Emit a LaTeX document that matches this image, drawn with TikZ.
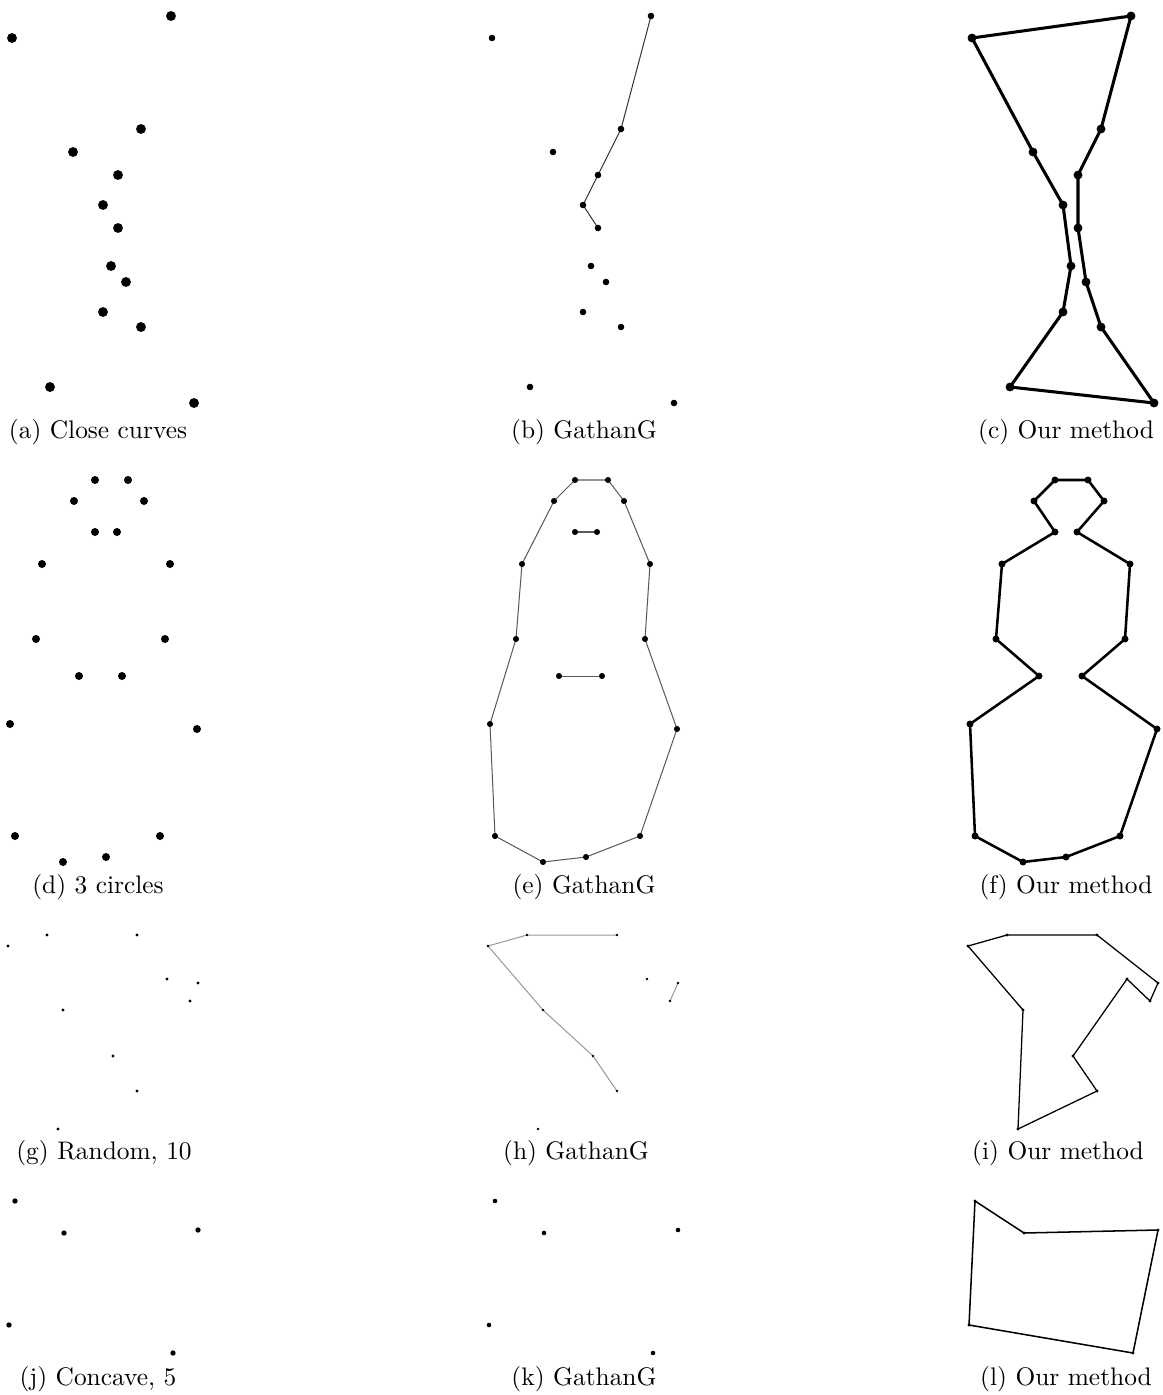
\documentclass[tikz,border=0pt]{standalone}
\usepackage{tikz}
\usetikzlibrary{backgrounds}

% point sets (pixel units, y downwards)
\def\ptsclose{171/16,12/38,141/129,73/152,118/175,103/205,118/228,111/266,126/282,103/312,141/327,50/387,194/403}
\def\ptscircles{95/480,128/480,74/501,144/501,95/532,117/532,42/564,170/564,36/639,165/639,79/676,122/676,10/724,197/729,15/836,160/836,63/862,106/857}
\def\ptsrandom{8/946,47/935,137/935,167/979,198/983,190/1001,63/1010,113/1056,137/1091,58/1129}
\def\ptsconcave{15/1201,64/1233,198/1230,9/1325,173/1353}

\begin{document}
\begin{tikzpicture}[
    x=0.3937pt, y=-0.3937pt,
    dot/.style={circle, fill=black, inner sep=0pt, minimum size=#1},
    gathan/.style={draw=#1, line width=0.4pt},
    ours/.style={draw=black, line width=#1, line join=round},
    caption/.style={font=\normalsize},
]
    \useasboundingbox (0,0) rectangle (1163,1395);

    % Row 1: close curves
    \foreach \x/\y [count=\i] in \ptsclose {
        \node[dot=3.9pt] (a\i) at (\x,\y) {};
        \node[dot=2.6pt] (b\i) at (\x+480,\y) {};
        \node[dot=3.5pt] (c\i) at (\x+960,\y) {};
    }
    \begin{scope}[on background layer]
        \draw[gathan=black!80] (b1.center) -- (b3.center) -- (b5.center) -- (b6.center) -- (b7.center);
        \draw[ours=1.2pt] (c1.center) -- (c2.center) -- (c4.center) -- (c6.center) -- (c8.center) -- (c10.center) -- (c12.center)
            -- (c13.center) -- (c11.center) -- (c9.center) -- (c7.center) -- (c5.center) -- (c3.center) -- cycle;
    \end{scope}
    \node[caption] (capa) at (98,432) {(a) Close curves};
    \node[caption] (capb) at (584,432) {(b) GathanG};
    \node[caption] (capc) at (1066,432) {(c) Our method};

    % Row 2: 3 circles
    \foreach \x/\y [count=\i] in \ptscircles {
        \node[dot=3.15pt] (d\i) at (\x,\y) {};
        \node[dot=2.4pt] (e\i) at (\x+480,\y) {};
        \node[dot=2.75pt] (f\i) at (\x+960,\y) {};
    }
    \begin{scope}[on background layer]
        \draw[gathan=black!65] (e1.center) -- (e2.center) -- (e4.center) -- (e8.center) -- (e10.center) -- (e14.center) -- (e16.center)
            -- (e18.center) -- (e17.center) -- (e15.center) -- (e13.center) -- (e9.center) -- (e7.center) -- (e3.center) -- cycle;
        \draw[gathan=black!65] (e5.center) -- (e6.center);
        \draw[gathan=black!65] (e11.center) -- (e12.center);
        \draw[ours=1pt] (f1.center) -- (f2.center) -- (f4.center) -- (f6.center) -- (f8.center) -- (f10.center) -- (f12.center)
            -- (f14.center) -- (f16.center) -- (f18.center) -- (f17.center) -- (f15.center) -- (f13.center) -- (f11.center)
            -- (f9.center) -- (f7.center) -- (f5.center) -- (f3.center) -- cycle;
    \end{scope}
    \node[caption] (capd) at (98,887) {(d) 3 circles};
    \node[caption] (cape) at (584,887) {(e) GathanG};
    \node[caption] (capf) at (1066,887) {(f) Our method};

    % Row 3: random, 10
    \foreach \x/\y [count=\i] in \ptsrandom {
        \node[dot=1.3pt] (g\i) at (\x,\y) {};
        \node[dot=1.1pt] (h\i) at (\x+480,\y) {};
        \node[dot=1.3pt] (i\i) at (\x+960,\y) {};
    }
    \begin{scope}[on background layer]
        \draw[gathan=black!40] (h3.center) -- (h2.center) -- (h1.center) -- (h7.center) -- (h8.center) -- (h9.center);
        \draw[gathan=black!40] (h5.center) -- (h6.center);
        \draw[ours=0.5pt] (i1.center) -- (i2.center) -- (i3.center) -- (i5.center) -- (i6.center) -- (i4.center) -- (i8.center)
            -- (i9.center) -- (i10.center) -- (i7.center) -- cycle;
    \end{scope}
    \node[caption] (capg) at (104,1153) {(g) Random, 10};
    \node[caption] (caph) at (576,1153) {(h) GathanG};
    \node[caption] (capi) at (1058,1153) {(i) Our method};

    % Row 4: concave, 5
    \foreach \x/\y [count=\i] in \ptsconcave {
        \node[dot=2.1pt] (j\i) at (\x,\y) {};
        \node[dot=1.8pt] (k\i) at (\x+480,\y) {};
        \node[dot=1.35pt] (l\i) at (\x+960,\y) {};
    }
    \begin{scope}[on background layer]
        \draw[ours=0.6pt] (l1.center) -- (l2.center) -- (l3.center) -- (l5.center) -- (l4.center) -- cycle;
    \end{scope}
    \node[caption] (capj) at (98,1379) {(j) Concave, 5};
    \node[caption] (capk) at (584,1379) {(k) GathanG};
    \node[caption] (capl) at (1066,1379) {(l) Our method};
\end{tikzpicture}
\end{document}
